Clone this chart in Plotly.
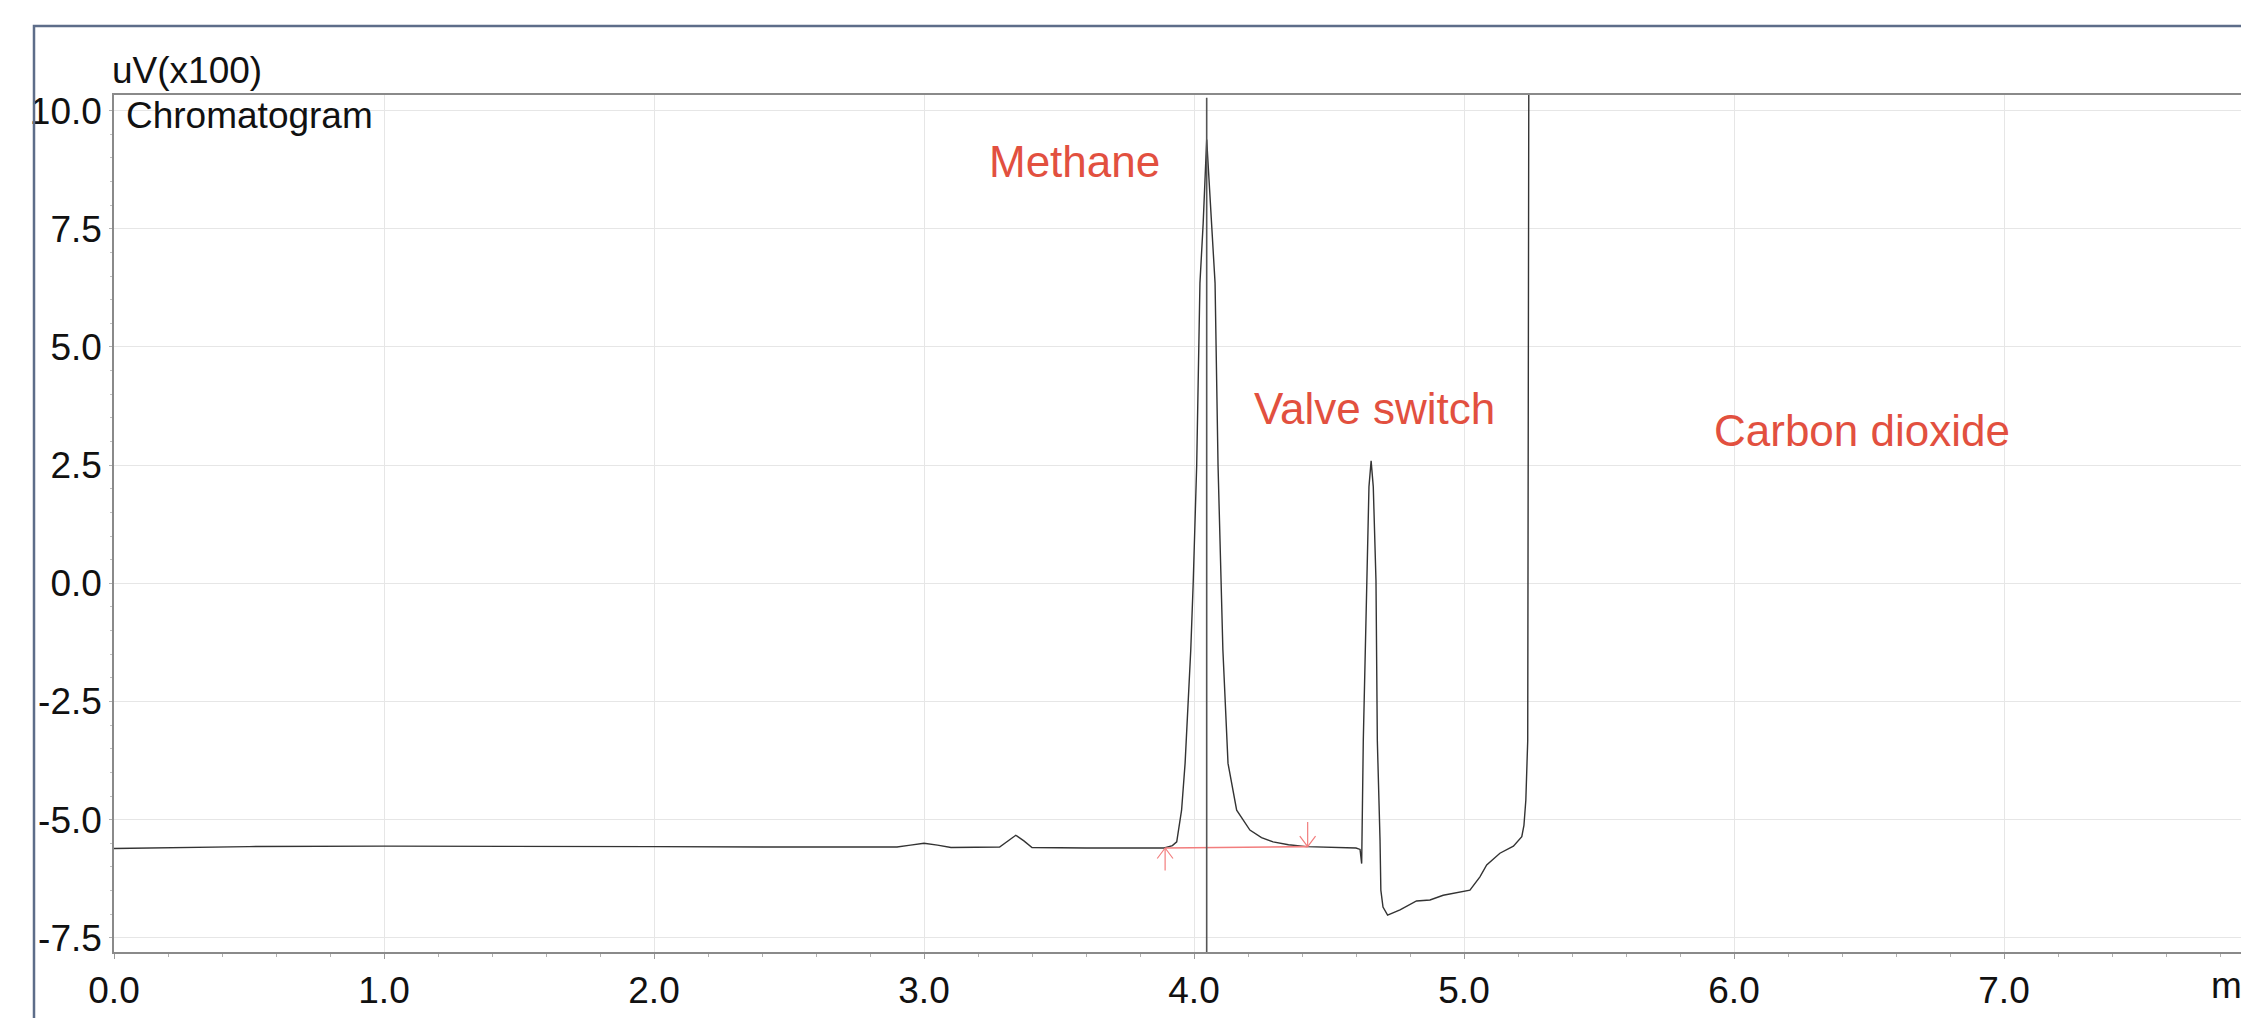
import plotly.graph_objects as go

# ---------------- data ----------------
time_min = [
    0.00, 0.10, 0.50, 1.00, 1.50, 2.00, 2.50, 2.90, 2.95, 3.00, 3.05, 3.10,
    3.28, 3.31, 3.34, 3.37, 3.40, 3.60, 3.85, 3.89, 3.92, 3.936, 3.954, 3.967,
    3.988, 3.997, 4.010, 4.022, 4.034, 4.047, 4.065, 4.078, 4.089, 4.100,
    4.107, 4.126, 4.158, 4.207, 4.25, 4.293, 4.35, 4.417, 4.50, 4.60, 4.615,
    4.621, 4.627, 4.639, 4.648, 4.656, 4.664, 4.674, 4.679, 4.689, 4.692,
    4.700, 4.717, 4.763, 4.824, 4.874, 4.923, 5.022, 5.059, 5.084, 5.133,
    5.183, 5.214, 5.222, 5.229, 5.236, 5.240,
]
signal_uv100 = [
    -5.61, -5.60, -5.57, -5.56, -5.56, -5.57, -5.58, -5.58, -5.54, -5.50, -5.54, -5.59,
    -5.58, -5.45, -5.33, -5.45, -5.59, -5.60, -5.60, -5.60, -5.55, -5.47, -4.80, -3.81,
    -1.41, 0.00, 2.50, 6.35, 7.62, 9.39, 7.62, 6.35, 2.50, 0.00,
    -1.41, -3.81, -4.80, -5.22, -5.38, -5.47, -5.53, -5.57, -5.58, -5.60, -5.63,
    -5.93, -3.33, 0.06, 2.04, 2.59, 2.04, 0.06, -3.33, -5.43, -6.49,
    -6.85, -7.02, -6.91, -6.72, -6.70, -6.60, -6.49, -6.21, -5.96, -5.71,
    -5.56, -5.36, -5.12, -4.59, -3.33, 10.60,
]

# retention-time marker of the methane peak
marker_time = 4.047

# integration baseline of the methane peak (start, end)
integ_time = [3.893, 4.421]
integ_level = [-5.60, -5.57]

# peak labels
label_text = ["Methane", "Valve switch", "Carbon dioxide"]
label_time = [3.559, 4.670, 6.474]
label_level = [8.93, 3.69, 3.24]

x_tick_vals = [0, 1, 2, 3, 4, 5, 6, 7]
x_tick_text = ["0.0", "1.0", "2.0", "3.0", "4.0", "5.0", "6.0", "7.0"]
y_tick_vals = [-7.5, -5.0, -2.5, 0.0, 2.5, 5.0, 7.5, 10.0]
y_tick_text = ["-7.5", "-5.0", "-2.5", "0.0", "2.5", "5.0", "7.5", "10.0"]

# ---------------- layout constants ----------------
W, H = 2241, 1018
ML, MR, MT = 114, 0, 95
MB = H - 952
PW, PH = W - ML - MR, H - MT - MB
X_RANGE = [0, PW / 270.0]
Y_RANGE = [-7.80, 10.33]

FONT = "Liberation Sans, Arial, Helvetica, sans-serif"
TXT = 37
RED = "#e2503f"
ARROW_RED = "#f27d7d"


def px_x(p):
    """screen pixel -> paper fraction"""
    return (p - ML) / PW


def px_y(p):
    return (H - MB - p) / PH


fig = go.Figure()

fig.add_trace(go.Scatter(
    x=time_min, y=signal_uv100, mode="lines",
    line=dict(color="#333333", width=1.4),
    showlegend=False, hoverinfo="x+y",
))

# integration baseline
fig.add_trace(go.Scatter(
    x=integ_time, y=integ_level, mode="lines",
    line=dict(color=ARROW_RED, width=1.6),
    showlegend=False, hoverinfo="skip",
))

# retention time marker line
fig.add_shape(type="line", xref="x", yref="y",
              x0=marker_time, x1=marker_time, y0=Y_RANGE[0], y1=10.27,
              line=dict(color="#555555", width=1.6))

# start (up) / end (down) arrows of the integration: stem + two open-V arms,
# offsets in screen pixels from the arrow tip
arrow_parts = [(0, 24), (-9, 12), (9, 12)]
for xi, yi, sgn in [(integ_time[0], integ_level[0], 1), (integ_time[1], integ_level[1], -1)]:
    for dx, dy in arrow_parts:
        fig.add_annotation(x=xi, y=yi, xref="x", yref="y", ax=dx, ay=sgn * (dy + (2 if dx == 0 and sgn < 0 else 0)),
                           text="", showarrow=True, arrowhead=0, arrowwidth=1.2,
                           arrowcolor=ARROW_RED, standoff=0)

for t, xx, yy in zip(label_text, label_time, label_level):
    fig.add_annotation(x=xx, y=yy, xref="x", yref="y", text=t, showarrow=False,
                       font=dict(family=FONT, size=44, color=RED),
                       xanchor="center", yanchor="middle")

# axis unit & chart title
fig.add_annotation(x=px_x(110), y=1, xref="paper", yref="paper", text="uV(x100)",
                   showarrow=False, xanchor="left", yanchor="bottom", yshift=2,
                   font=dict(family=FONT, size=TXT, color="#111111"))
fig.add_annotation(x=px_x(124), y=1, xref="paper", yref="paper", text="Chromatogram",
                   showarrow=False, xanchor="left", yanchor="top", yshift=2,
                   font=dict(family=FONT, size=TXT, color="#111111"))
fig.add_annotation(x=px_x(2209), y=px_y(985), xref="paper", yref="paper", text="min",
                   showarrow=False, xanchor="left", yanchor="middle",
                   font=dict(family=FONT, size=TXT, color="#111111"))

# outer window frame
fig.add_shape(type="rect", xref="paper", yref="paper",
              x0=px_x(34), x1=px_x(W + 40), y0=px_y(H + 40), y1=px_y(26),
              line=dict(color="#5d6d89", width=2.5), fillcolor="rgba(0,0,0,0)")

fig.update_layout(
    width=W, height=H,
    margin=dict(l=ML, r=MR, t=MT, b=MB, pad=0),
    paper_bgcolor="white", plot_bgcolor="white",
    font=dict(family=FONT, size=TXT, color="#111111"),
    showlegend=False,
)
fig.update_xaxes(
    range=X_RANGE, tickvals=x_tick_vals, ticktext=x_tick_text,
    showgrid=True, gridcolor="#e6e6e6", gridwidth=1,
    showline=True, linecolor="#8a8a8a", linewidth=1.5, mirror=True,
    ticks="outside", ticklen=5, tickcolor="#9a9a9a", tickwidth=1,
    minor=dict(dtick=0.2, ticks="outside", ticklen=3, tickcolor="#b0b0b0", showgrid=False),
    zeroline=False, tickfont=dict(size=TXT, family=FONT, color="#111111"),
)
fig.update_yaxes(
    range=Y_RANGE, tickvals=y_tick_vals, ticktext=y_tick_text,
    showgrid=True, gridcolor="#e6e6e6", gridwidth=1,
    showline=True, linecolor="#8a8a8a", linewidth=1.5, mirror=False,
    ticks="outside", ticklen=3, tickcolor="#b0b0b0", tickwidth=1,
    minor=dict(dtick=0.5, ticks="outside", ticklen=2, tickcolor="#c0c0c0", showgrid=False),
    zeroline=False, tickfont=dict(size=TXT, family=FONT, color="#111111"),
)

fig.write_html(
    "out.html",
    config={"displayModeBar": False},
    post_script="document.documentElement.style.overflow='hidden';"
                "document.body.style.margin='0';document.body.style.overflow='hidden';",
)
